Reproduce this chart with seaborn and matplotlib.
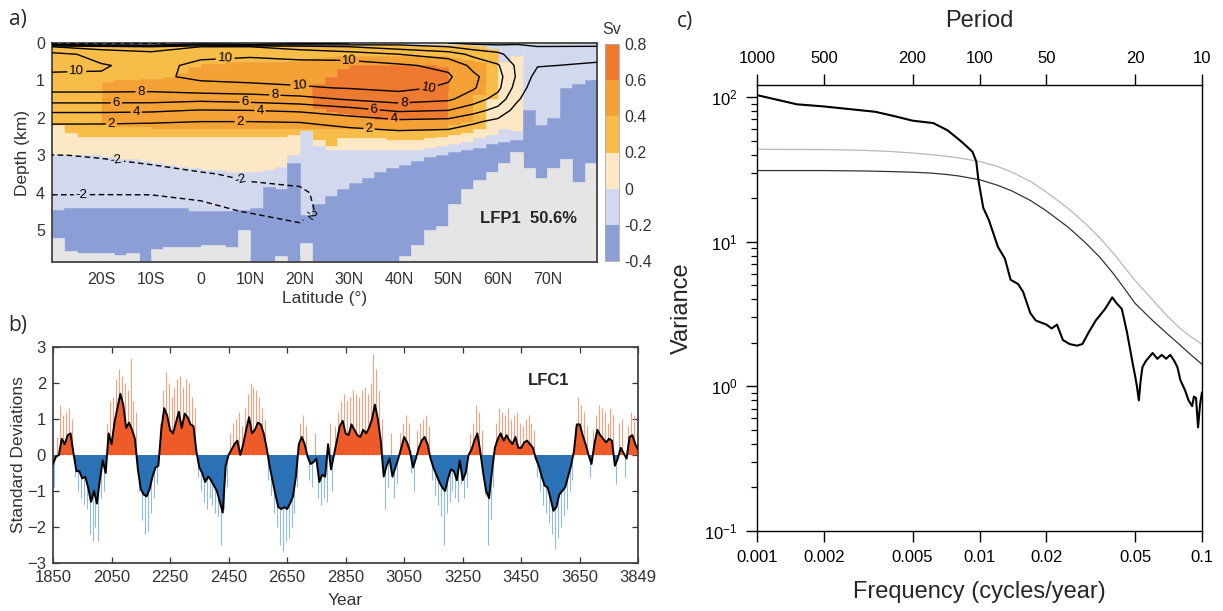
import numpy as np
import matplotlib
matplotlib.use("Agg")
import matplotlib.pyplot as plt
import matplotlib.cm as cm
import matplotlib.ticker as mticker
from matplotlib.colors import ListedColormap, BoundaryNorm
import seaborn as sns

sns.set_style("ticks")
plt.rcParams["font.family"] = ["Liberation Sans", "DejaVu Sans"]
plt.rcParams["mathtext.fontset"] = "custom"
plt.rcParams["mathtext.rm"] = "Liberation Sans"
plt.rcParams["mathtext.it"] = "Liberation Sans:italic"
plt.rcParams["mathtext.bf"] = "Liberation Sans:bold"
plt.rcParams["lines.dashed_pattern"] = [4.0, 2.5]

# ---------------- panel a data: shaded LFP1 pattern (layer boundaries, km) -------------
lat_edges = np.arange(-30, 80.01, 2.5)          # 44 cells of 2.5 deg
d_surf = [0.08]*12 + [0.05]*22 + [0.08, 0.15, 0.5, 0.35] + [0]*6
d_otop = [2.2]*4 + [1.05, 1.0, 1.0, 0.95, 0.95, 0.9, 0.8, 0.65] + \
         [0.55, 0.55, 0.5, 0.5, 0.5, 0.5, 0.5, 0.48, 0.45] + \
         [0.4, 0.38] + [0.35]*9 + [0.4, 0.45, 0.5, 0.5, 0.5, 0.35] + [0]*6
d_dotop = [2.2]*4 + [1.5]*17 + [1.1, 0.9, 0.7] + [0.6]*7 + [0.65] + \
          [1.3, 1.3, 1.0, 0.5, 0.5, 0.35] + [0]*6
d_dobot = [2.2]*4 + [1.5]*17 + [1.75, 1.85, 1.9, 1.95, 2.0, 2.05, 2.05, 2.05, 2.05, 2.05, 2.0] + \
          [1.3, 1.3, 1.0, 0.5, 0.5, 0.35] + [0]*6
d_obot = [2.2]*4 + [2.2, 2.25, 2.25, 2.25] + [2.3]*13 + [2.3]*6 + [2.35]*4 + \
         [2.3, 2.2, 2.1, 1.4, 0.5, 0.5, 0.35] + [0]*6
d_lobot = [2.2, 2.4, 2.5, 2.5] + [2.5]*15 + [2.45, 2.35, 2.6, 2.75, 2.55, 2.55, 2.55, 2.55] + \
          [2.6, 2.6, 2.6, 2.55, 2.5, 2.45, 2.4, 2.3, 1.5, 0.5, 0.35] + [0]*6
d_crbot = [3.0, 3.0, 3.0, 3.0, 3.05, 3.1, 3.1, 3.15, 3.2, 3.25, 3.3, 3.35, 3.4, 3.4, 3.45,
           3.45, 3.45, 3.4, 3.3, 3.0, 2.35, 2.75] + [2.85]*8 + \
          [2.8, 2.75, 2.7, 2.65, 2.55, 2.45, 2.3, 2.35] + [0]*6
d_pbbot = [4.45] + [4.4]*10 + [4.5]*4 + [4.45, 4.4, 3.85, 3.9, 3.2, 4.6, 4.3, 4.1, 3.9,
           3.75, 3.6, 3.45, 3.35, 3.25, 3.15, 3.05, 3.0, 2.9, 2.85, 2.8, 2.7, 2.65, 2.6,
           1.8, 2.2, 2.0, 1.2, 1.1, 1.0]
d_land = [5.2, 5.55, 5.6, 5.6, 5.6, 5.65, 5.6, 5.85, 5.5, 5.45, 5.45, 5.45, 5.4, 5.4, 5.45,
          5.0, 5.85, 5.85, 5.7, 5.85, 5.35, 5.85, 5.85, 5.85, 5.85, 5.85, 5.85, 5.85, 5.7,
          5.4, 5.0, 4.9, 4.3, 3.9, 3.65, 3.45, 3.2, 2.9, 3.35, 3.6, 3.35, 3.1, 3.7, 3.2]
max_depth = 5.85

# ---------------- panel a data: climatological AMOC contours (Sv) -------------
amoc_lat = [-30, -20, -10, 0, 10, 20, 30, 40, 50, 55, 60, 64, 68, 80]
amoc_depth = [0, 0.1, 0.3, 0.6, 0.9, 1.2, 1.5, 1.8, 2.1, 2.5, 3.0, 3.5, 4.0, 4.5, 5.0, 5.85]
amoc_sv = [
    [-2, -3, -3, 0, -2, 1, 2, 3, 2, 1.5, 1.5, 1.8, 0.5, 0.5],
    [8, 7, 6, 8, 8, 7, 6, 5, 4, 3, 2.5, 2.3, 2.1, 2.2],
    [10.5, 9.5, 9, 9.7, 9.8, 9.5, 9, 8, 7, 5.5, 4.5, 2.8, 2.4, 2.5],
    [10.3, 10.1, 9.6, 10.3, 10.5, 10.5, 10.8, 10.3, 9.5, 7.5, 6.2, 3.5, 2.1, 1.8],
    [9.8, 9.9, 9.6, 10.4, 10.6, 10.7, 11.3, 11.5, 10.3, 8.4, 6.8, 3.6, 1.3, 1.0],
    [8.7, 8.7, 8.6, 9.3, 9.5, 9.8, 10.1, 10.5, 9.7, 8.2, 6.5, 3.0, 0.8, 0.5],
    [6.8, 6.8, 6.8, 6.5, 6.8, 7.3, 8.2, 8.9, 8.3, 7.0, 5.2, 2.2, 0.5, 0.3],
    [4.4, 4.4, 4.3, 3.9, 4.0, 4.3, 5.2, 6.3, 6.0, 4.8, 3.3, 1.2, 0.3, 0.2],
    [2.3, 2.3, 2.2, 2.0, 2.0, 2.1, 2.8, 3.5, 3.3, 2.3, 1.5, 0.5, 0.1, 0.1],
    [0.5, 0.4, 0.3, 0.3, 0.2, 0.3, 0.8, 1.0, 0.8, 0.5, 0.3, 0, 0, 0],
    [-2.05, -1.9, -1.6, -1.2, -1.0, -0.8, -0.3, 0, 0, 0, 0, 0, 0, 0],
    [-2.6, -2.5, -2.4, -2.1, -1.8, -1.6, -0.8, -0.4, -0.3, -0.2, 0, 0, 0, 0],
    [-2.1, -2.1, -2.1, -2.3, -2.3, -2.2, -1.2, -0.6, -0.4, -0.2, 0, 0, 0, 0],
    [-1.2, -1.1, -1.2, -1.6, -2.1, -2.3, -1.3, -0.6, -0.4, -0.2, 0, 0, 0, 0],
    [-0.6, -0.5, -0.5, -0.7, -1.0, -1.8, -1.0, -0.4, -0.3, -0.1, 0, 0, 0, 0],
    [0, 0, 0, 0, 0, -0.5, -0.3, -0.2, 0, 0, 0, 0, 0, 0],
]
contour_levels = [-2, 2, 4, 6, 8, 10]
cbar_bounds = [-0.4, -0.2, 0, 0.2, 0.4, 0.6, 0.8]
cbar_labels = ["-0.4", "-0.2", "0", "0.2", "0.4", "0.6", "0.8"]
lat_ticks = [-20, -10, 0, 10, 20, 30, 40, 50, 60, 70]
lat_labels = ["20S", "10S", "0", "10N", "20N", "30N", "40N", "50N", "60N", "70N"]

# ---------------- panel b data: LFC1 (decadal samples) -------------
lfc_years = list(range(1850, 3841, 10)) + [3849]
lfc_smooth = [
    -0.25, -0.05, 0.0, 0.45, 0.3, 0.55, 0.6, 0.05, -0.45, -0.45,
    -0.65, -0.6, -0.9, -1.3, -1.0, -1.35, -0.7, -0.15, -0.5, 0.6,
    0.3, 0.9, 1.3, 1.7, 1.4, 0.75, 0.9, 0.7, 0.45, -0.4,
    -0.95, -1.1, -1.15, -0.95, -0.6, -0.35, -0.3, 0.7, 1.3, 1.1,
    0.7, 0.6, 0.9, 1.2, 0.75, 1.15, 1.05, 0.85, 0.8, 0.1,
    -0.35, -0.5, -0.75, -0.6, -0.7, -0.85, -1.0, -1.3, -1.6, -0.3,
    0.0, 0.15, 0.3, 0.4, 0.0, 0.3, 0.7, 1.05, 0.6, 0.7,
    0.9, 0.85, 0.6, 0.2, -0.3, -0.7, -1.1, -1.45, -1.5, -1.45,
    -1.5, -1.35, -1.15, -0.6, 0.3, 0.5, 0.3, -0.05, -0.25, -0.2,
    -0.1, -0.75, -0.55, -0.6, 0.3, -0.4, 0.0, 0.4, 0.8, 0.95,
    0.6, 0.55, 0.85, 0.7, 0.55, 0.5, 0.7, 0.6, 0.75, 1.0,
    1.4, 1.0, 0.4, -0.6, -0.3, -0.1, -0.6, -0.35, -0.1, 0.2,
    0.5, 0.35, 0.1, -0.35, -0.1, 0.2, 0.4, 0.5, 0.3, -0.1,
    -0.35, -0.55, -0.75, -0.9, -1.0, -0.65, -0.4, -0.45, -0.7, -0.15,
    -0.7, -0.5, 0.0, 0.15, 0.4, 0.6, 0.1, -0.5, -1.0, -1.2,
    -0.45, 0.2, 0.45, 0.6, 0.4, 0.55, 0.4, 0.3, 0.5, 0.2,
    0.2, 0.35, 0.4, 0.3, 0.2, -0.1, -0.3, -0.6, -0.85, -0.9,
    -1.2, -1.55, -1.45, -1.1, -1.0, -0.9, -0.6, -0.3, 0.1, 0.85,
    0.85, 0.55, 0.3, 0.0, -0.25, 0.3, 0.7, 0.55, 0.45, 0.35,
    0.45, 0.4, -0.3, -0.1, 0.2, 0.05, -0.1, 0.5, 0.55, 0.3,
    0.15,
]
spike_years = list(range(1855, 3846, 10))
lfc_spikes = [
    -0.9, 0.5, 1.4, 1.1, 1.2, 1.3, 1.0, -0.6, -1.0, -1.2,
    -1.4, -1.5, -2.2, -2.4, -2.0, -2.4, -1.2, -1.0, 0.9, 1.5,
    1.6, 2.1, 2.4, 2.2, 2.0, 1.8, 2.7, 1.5, 1.2, -1.0,
    -1.8, -2.2, -2.1, -1.6, -1.2, -0.8, 0.9, 1.8, 2.3, 2.0,
    1.6, 1.9, 2.1, 2.2, 1.9, 2.1, 2.0, 1.6, 1.3, -0.6,
    -1.0, -1.3, -1.5, -1.2, -1.4, -1.6, -1.7, -2.5, -1.5, -0.9,
    0.6, 0.9, 1.0, 1.2, 0.8, 1.3, 1.7, 2.0, 1.9, 1.8,
    1.6, 1.3, 1.0, -0.7, -1.1, -1.6, -2.0, -2.5, -2.7, -2.4,
    -2.3, -2.0, -1.6, -0.9, 0.9, 1.1, 0.8, -0.7, -0.9, 0.6,
    -1.2, -1.4, -1.2, -1.3, 0.9, -1.0, 0.8, 1.2, 1.5, 1.7,
    1.5, 1.6, 1.8, 1.7, 1.6, 1.8, 1.9, 1.7, 2.0, 2.8,
    2.4, 1.8, 1.0, -1.5, -0.9, 0.6, -1.2, -0.8, 0.6, 0.9,
    1.1, 0.9, -0.5, -1.0, 0.7, 0.9, 1.0, 1.1, 0.8, -0.7,
    -1.1, -1.4, -1.7, -2.5, -1.6, -1.3, -1.0, -1.2, -1.3, -0.8,
    -1.2, -0.9, 0.6, 0.9, 1.4, 1.2, 0.7, -1.1, -2.5, -1.8,
    -0.9, 0.9, 1.3, 1.2, 1.1, 1.3, 1.0, 1.1, 1.2, 0.9,
    0.8, 1.0, 1.1, 0.9, 0.7, -0.6, -1.0, -1.4, -1.6, -1.9,
    -2.2, -2.6, -2.3, -2.0, -1.7, -1.5, -1.0, -0.7, 0.8, 1.6,
    1.4, 1.2, 0.8, -0.6, 0.7, 1.1, 1.4, 1.3, 1.2, 0.9,
    1.3, 1.1, -0.8, 0.9, 1.0, -0.6, 0.8, 1.2, 1.1, 0.9,
]
year_ticks = [1850, 2050, 2250, 2450, 2650, 2850, 3050, 3250, 3450, 3650, 3849]

# ---------------- panel c data: spectrum -------------
spec_freq = [0.001, 0.00151, 0.002, 0.0034, 0.0041, 0.005, 0.0062, 0.0072, 0.00834, 0.0093,
             0.00967, 0.0099, 0.0104, 0.011, 0.0121, 0.013, 0.0138, 0.0149, 0.0157, 0.0169,
             0.0179, 0.02, 0.0211, 0.0223, 0.0237, 0.0254, 0.0274, 0.029, 0.031, 0.0333,
             0.0367, 0.0395, 0.0412, 0.0436, 0.046, 0.0488, 0.05, 0.051, 0.052, 0.053,
             0.054, 0.056, 0.06, 0.063, 0.066, 0.069, 0.072, 0.075, 0.0775, 0.08,
             0.0838, 0.087, 0.0903, 0.092, 0.094, 0.096, 0.098, 0.1]
spec_var = [103, 89, 86, 79, 74, 68.6, 66, 58.7, 48.8, 41.8,
            35.8, 26.3, 17.1, 14.2, 9.2, 7.65, 5.45, 5.1, 4.5, 3.22,
            2.85, 2.67, 2.51, 2.67, 2.09, 1.96, 1.91, 1.96, 2.37, 2.85,
            3.43, 4.12, 3.77, 3.43, 2.37, 1.44, 1.19, 1.0, 0.8, 1.1,
            1.36, 1.5, 1.7, 1.55, 1.65, 1.55, 1.65, 1.5, 1.36, 1.1,
            0.944, 0.8, 0.73, 0.85, 0.83, 0.52, 0.75, 0.91]
rn_freq = [0.001, 0.002, 0.003, 0.004, 0.005, 0.006, 0.007, 0.008, 0.01, 0.012,
           0.014, 0.017, 0.02, 0.025, 0.03, 0.035, 0.04, 0.045, 0.05, 0.06,
           0.07, 0.08, 0.09, 0.1]
rn_mean = [31, 31, 30.8, 30.5, 30.2, 29.8, 29.2, 28.5, 26.8, 24.6,
           22.4, 19.2, 16.3, 12.6, 9.8, 7.7, 6.0, 4.7, 3.75, 2.85,
           2.3, 1.92, 1.63, 1.42]
rn_upper = [43.5, 43.3, 42.8, 42.0, 41.0, 40.0, 39.0, 38.0, 35.8, 33.2,
            30.2, 26.0, 22.0, 17.0, 13.3, 10.5, 8.3, 6.6, 5.4, 3.95,
            3.05, 2.5, 2.18, 1.95]
freq_ticks = [0.001, 0.002, 0.005, 0.01, 0.02, 0.05, 0.1]
freq_labels = ["0.001", "0.002", "0.005", "0.01", "0.02", "0.05", "0.1"]
period_labels = ["1000", "500", "200", "100", "50", "20", "10"]

# ---------------- colours -------------
C_DO, C_OR, C_LO = "#ed7a30", "#f4a236", "#f7bd48"
C_CR, C_PB, C_BL, C_LAND = "#fde8c6", "#d2d9ee", "#8c9ed6", "#e5e5e5"
C_RED, C_BLUE = "#ee5a28", "#2a72b5"
C_RED_L, C_BLUE_L = "#f3a37f", "#8fbbe0"

W, H = 1223, 611
fig = plt.figure(figsize=(W / 100, H / 100), dpi=100)


def rect(l, t, r, b):
    return [l / W, 1 - b / H, (r - l) / W, (b - t) / H]


AXC = "#333333"
panel_font = ["Open Sans", "DejaVu Sans"]

# ================= panel a =================
axa = fig.add_axes(rect(52, 43, 597, 262))
tops = [np.zeros(44)] + [np.asarray(a, float) for a in
        [d_surf, d_otop, d_dotop, d_dobot, d_obot, d_lobot, d_crbot, d_pbbot, d_land]]
bots = tops[1:] + [np.full(44, max_depth)]
cols = [C_PB, C_LO, C_OR, C_DO, C_OR, C_LO, C_CR, C_PB, C_BL, C_LAND]
for tp, bt, c in zip(tops, bots, cols):
    axa.fill_between(lat_edges, np.append(tp, tp[-1]), np.append(bt, bt[-1]),
                     step="post", facecolor=c, edgecolor=c, lw=0.4, zorder=1)
cs = axa.contour(amoc_lat, amoc_depth, np.array(amoc_sv), levels=contour_levels,
                 colors="k", linewidths=1.0,
                 linestyles=["--", "-", "-", "-", "-", "-"], zorder=3)
label_spots = [(-18, 2.15), (8, 2.1), (34, 2.27),
               (-13, 1.85), (12, 1.76), (39, 1.98),
               (-17, 1.6), (9, 1.56), (35, 1.76),
               (-12, 1.34), (15, 1.32), (41, 1.55),
               (-25, 0.7), (5, 0.55), (20, 1.12), (30, 0.6), (46, 1.15),
               (-17, 3.05), (-24, 4.05), (8, 3.65), (22, 4.6)]
axa.clabel(cs, fmt="%d", fontsize=9.5, inline=True, inline_spacing=2, manual=label_spots)
axa.set_xlim(-30, 80)
axa.set_ylim(max_depth, 0)
axa.set_xticks(lat_ticks)
axa.set_xticklabels(lat_labels)
axa.set_yticks([0, 1, 2, 3, 4, 5])
axa.tick_params(direction="in", length=4, width=0.9, colors=AXC, labelsize=11.5,
                top=True, right=True, pad=5)
axa.tick_params(axis="x", pad=7)
for s in axa.spines.values():
    s.set_color("#444444")
    s.set_linewidth(1.3)
axa.set_xlabel("Latitude (°)", fontsize=12.5, color=AXC, labelpad=3)
axa.set_ylabel("Depth (km)", fontsize=12.5, color=AXC, labelpad=4)
axa.text(76, 4.68, "LFP1  50.6%", fontsize=12, fontweight="bold", ha="right",
         va="center", zorder=5)

cax = fig.add_axes(rect(605, 44, 619, 261))
cmap = ListedColormap([C_BL, C_PB, C_CR, C_LO, C_OR, C_DO])
norm = BoundaryNorm(cbar_bounds, 6)
cb = fig.colorbar(cm.ScalarMappable(norm=norm, cmap=cmap), cax=cax, ticks=cbar_bounds)
cb.ax.set_yticklabels(cbar_labels)
cb.ax.tick_params(length=0, labelsize=11.5, colors=AXC, pad=4)
cb.outline.set_edgecolor("#aaaaaa")
cb.outline.set_linewidth(0.6)
fig.text(612 / W, 1 - 30 / H, "Sv", fontsize=11.5, ha="center", va="center", color=AXC)
fig.text(18 / W, 1 - 20 / H, "a)", fontsize=15, ha="center", va="center", family=panel_font)

# ================= panel b =================
axb = fig.add_axes(rect(53, 347, 638, 563))
sm = np.asarray(lfc_smooth, float)
yr = np.asarray(lfc_years, float)
sp = np.asarray(lfc_spikes, float)
axb.vlines(spike_years, 0, sp, colors=[C_RED_L if v > 0 else C_BLUE_L for v in sp],
           lw=0.8, zorder=1)
axb.fill_between(yr, 0, sm, where=sm >= 0, interpolate=True, color=C_RED, lw=0, zorder=2)
axb.fill_between(yr, 0, sm, where=sm <= 0, interpolate=True, color=C_BLUE, lw=0, zorder=2)
sns.lineplot(x=yr, y=sm, ax=axb, color="k", lw=1.4, zorder=3)
axb.set_xlim(1850, 3849)
axb.set_ylim(-3, 3)
axb.set_xticks(year_ticks)
axb.set_yticks([-3, -2, -1, 0, 1, 2, 3])
axb.tick_params(direction="in", length=4, width=0.9, colors=AXC, labelsize=12,
                top=True, right=True, pad=5)
for s in axb.spines.values():
    s.set_color("#444444")
    s.set_linewidth(1.3)
axb.set_xlabel("Year", fontsize=12.5, color=AXC, labelpad=6)
axb.set_ylabel("Standard Deviations", fontsize=12.5, color=AXC, labelpad=1)
axb.text(3474, 2.08, "LFC1", fontsize=12, fontweight="bold", ha="left", va="center")
fig.text(18 / W, 1 - 325 / H, "b)", fontsize=15, ha="center", va="center", family=panel_font)

# ================= panel c =================
axc = fig.add_axes(rect(757, 85, 1202, 531))
axc.set_xscale("log")
axc.set_yscale("log")
sns.lineplot(x=rn_freq, y=rn_upper, ax=axc, color="#b8b8b8", lw=0.9)
sns.lineplot(x=rn_freq, y=rn_mean, ax=axc, color="#333333", lw=0.9)
sns.lineplot(x=spec_freq, y=spec_var, ax=axc, color="k", lw=1.5)
axc.set_xlim(0.001, 0.1)
axc.set_ylim(0.1, 121)
axc.xaxis.set_major_locator(mticker.FixedLocator(freq_ticks))
axc.xaxis.set_minor_locator(mticker.NullLocator())
axc.set_xticklabels(freq_labels)
axc.yaxis.set_major_locator(mticker.FixedLocator([0.1, 1, 10, 100]))
axc.set_yticklabels(["10$^{-1}$", "10$^{0}$", "10$^{1}$", "10$^{2}$"])
axc.yaxis.set_minor_locator(mticker.LogLocator(base=10, subs=np.arange(2, 10)))
axc.yaxis.set_minor_formatter(mticker.NullFormatter())
axc.tick_params(which="major", direction="out", length=8, width=1.0, colors="k",
                labelsize=12, pad=6, right=False, top=False)
axc.tick_params(which="minor", direction="out", length=4, width=0.9, colors="k",
                right=False, top=False)
for s in axc.spines.values():
    s.set_color("k")
    s.set_linewidth(1.0)
axc.set_xlabel("Frequency (cycles/year)", fontsize=17, labelpad=11)
axc.set_ylabel("Variance", fontsize=17, labelpad=8)

axt = axc.twiny()
axt.set_xscale("log")
axt.set_xlim(0.001, 0.1)
axt.xaxis.set_major_locator(mticker.FixedLocator(freq_ticks))
axt.xaxis.set_minor_locator(mticker.NullLocator())
axt.set_xticklabels(period_labels)
axt.tick_params(which="major", direction="out", length=8, width=1.0, colors="k",
                labelsize=12, pad=6)
for s in axt.spines.values():
    s.set_visible(False)
axt.set_xlabel("Period", fontsize=17, labelpad=17)
fig.text(685 / W, 1 - 22 / H, "c)", fontsize=15, ha="center", va="center", family=panel_font)

fig.savefig("out.png", dpi=100)
